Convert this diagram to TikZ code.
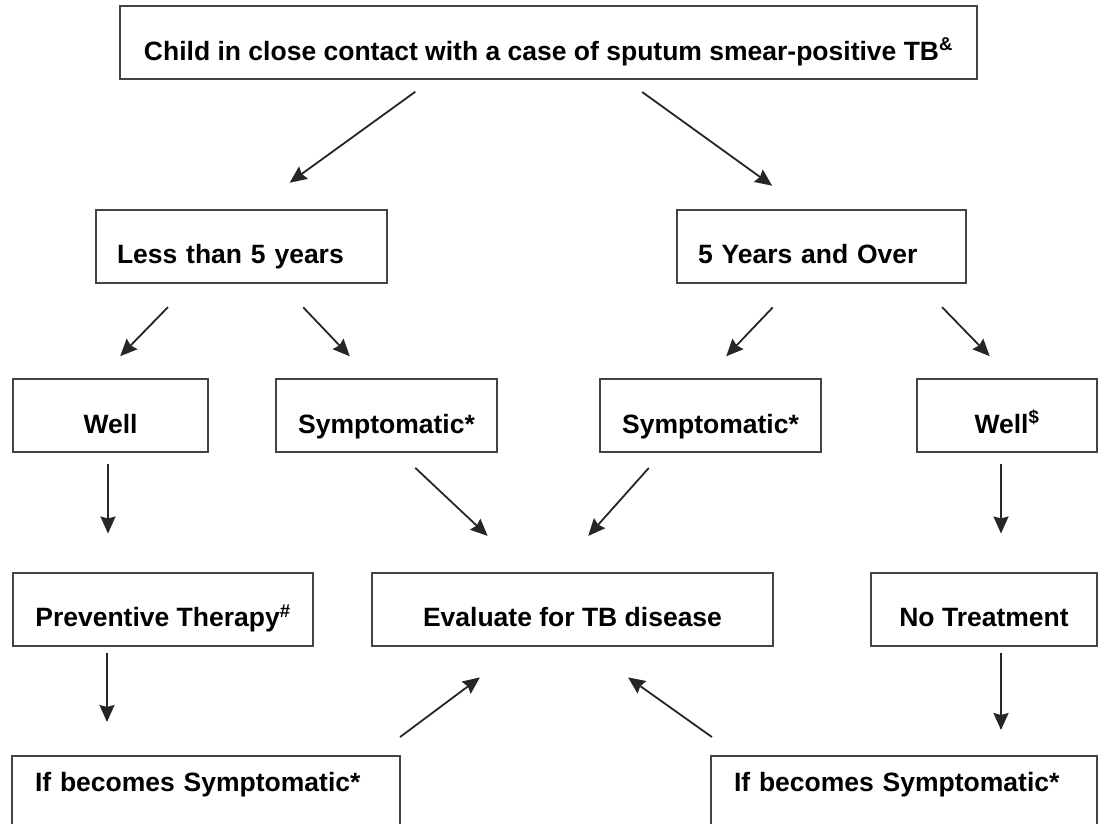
\documentclass[tikz,border=0pt]{standalone}
\usepackage{fontspec}
\setmainfont{Liberation Sans}
\usetikzlibrary{arrows.meta}
\definecolor{boxgray}{HTML}{444444}

\begin{document}
\begin{tikzpicture}[x=1pt,y=-1pt,
    box/.style={draw=boxgray, line width=2pt, rectangle, minimum height=73pt, inner sep=0pt,
        font=\fontsize{26.5}{30}\selectfont\bfseries, text height=35pt, text depth=0pt},
    leftbox/.style={box, align=left, inner xsep=21pt},
    lowbox/.style={box, anchor=north, align=left, inner xsep=23pt, text height=35pt, text depth=100pt},
    arr/.style={-{Stealth[length=17pt,width=15pt,inset=2pt]}, line width=1.8pt, draw=black!85}]
    \useasboundingbox (0,0) rectangle (1099,823);
    \clip (0,0) rectangle (1099,823);

    \node[box, minimum width=857pt] (child) at (548.5,42.5) {Child in close contact with a case of sputum smear-positive TB\textsuperscript{\&}};
    \node[leftbox, text width=249pt] (young) at (241.5,246) {Less than 5 years};
    \node[leftbox, text width=247pt] (older) at (821.5,246) {5 Years and Over};
    \node[box, minimum width=195pt] (wellY) at (110.5,415.5) {Well};
    \node[box, minimum width=221pt] (sympY) at (386.5,415.5) {Symptomatic*};
    \node[box, minimum width=221pt] (sympO) at (710.5,415.5) {Symptomatic*};
    \node[box, minimum width=180pt] (wellO) at (1007,415.5) {Well\textsuperscript{\$}};
    \node[box, minimum width=300pt] (prevent) at (163,609) {Preventive Therapy\textsuperscript{\#}};
    \node[box, minimum width=401pt] (evaluate) at (572.5,609) {Evaluate for TB disease};
    \node[box, minimum width=226pt] (notreat) at (984,609) {No Treatment};
    \node[lowbox, text width=342pt] (becY) at (206,755) {If becomes Symptomatic*};
    \node[lowbox, text width=340pt] (becO) at (904,755) {If becomes Symptomatic*};

    % age split
    \draw[arr, shorten <=20pt, shorten >=44pt] ([xshift=-117pt]child.south) -- ([xshift=12.5pt]young.north);
    \draw[arr, shorten <=20.5pt, shorten >=39pt] ([xshift=77pt]child.south) -- ([xshift=-17.7pt]older.north);
    \draw[arr, shorten <=33pt, shorten >=30.5pt] ([xshift=-50.5pt]young.south) -- ([xshift=-11.6pt]wellY.north);
    \draw[arr, shorten <=33pt, shorten >=30pt] ([xshift=39pt]young.south) -- ([xshift=-16pt]sympY.north);
    \draw[arr, shorten <=33pt, shorten >=30pt] ([xshift=-26pt]older.south) -- ([xshift=-5pt]sympO.north);
    \draw[arr, shorten <=33pt, shorten >=30.5pt] ([xshift=97.5pt]older.south) -- ([xshift=4pt]wellO.north);

    % next steps
    \draw[arr, shorten <=11pt, shorten >=38pt] ([xshift=-2.5pt]wellY.south) -- ([xshift=-55pt]prevent.north);
    \draw[arr, shorten <=21.7pt, shorten >=52pt] ([xshift=13pt]sympY.south) -- ([xshift=-47pt]evaluate.north);
    \draw[arr, shorten <=20pt, shorten >=47.7pt] ([xshift=-48.4pt]sympO.south) -- ([xshift=-16pt]evaluate.north);
    \draw[arr, shorten <=11pt, shorten >=38pt] ([xshift=-6pt]wellO.south) -- ([xshift=17pt]notreat.north);
    \draw[arr, shorten <=6pt, shorten >=33pt] ([xshift=-56pt]prevent.south) -- ([xshift=-99pt]becY.north);
    \draw[arr, shorten <=6pt, shorten >=25pt] ([xshift=17pt]notreat.south) -- ([xshift=97pt]becO.north);

    % back to evaluation
    \draw[arr, shorten <=30pt, shorten >=51.7pt] ([xshift=170pt]becY.north) -- ([xshift=-51.2pt]evaluate.south);
    \draw[arr, shorten <=31pt, shorten >=53.3pt] ([xshift=-166.8pt]becO.north) -- ([xshift=12.1pt]evaluate.south);
\end{tikzpicture}
\end{document}
